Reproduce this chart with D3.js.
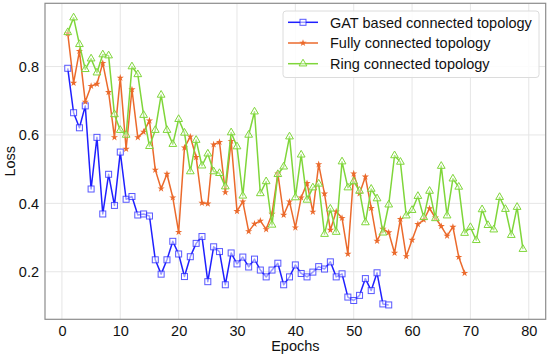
<!DOCTYPE html>
<html>
<head>
<meta charset="utf-8">
<script src="https://cdn.jsdelivr.net/npm/d3@7"></script>
<style>
  body { margin: 0; background: #fff; }
  svg { font-family: "Liberation Sans", Arial, sans-serif; }
</style>
</head>
<body>
<div id="chart"></div>
<script>
const gatLoss = [0.795, 0.665, 0.621, 0.685, 0.442, 0.593, 0.369, 0.485, 0.394, 0.550,
    0.412, 0.420, 0.366, 0.369, 0.363, 0.235, 0.193, 0.235, 0.289, 0.252,
    0.186, 0.244, 0.283, 0.303, 0.171, 0.273, 0.259, 0.162, 0.255, 0.223,
    0.243, 0.214, 0.237, 0.205, 0.185, 0.205, 0.225, 0.162, 0.185, 0.220,
    0.195, 0.185, 0.199, 0.215, 0.208, 0.229, 0.185, 0.194, 0.126, 0.116,
    0.131, 0.180, 0.145, 0.197, 0.106, 0.103];

const fullyLoss = [0.897, 0.752, 0.845, 0.697, 0.743, 0.749, 0.810, 0.725, 0.593, 0.767,
    0.559, 0.733, 0.593, 0.609, 0.642, 0.498, 0.443, 0.486, 0.417, 0.316,
    0.563, 0.595, 0.535, 0.401, 0.399, 0.572, 0.579, 0.432, 0.582, 0.377,
    0.405, 0.318, 0.340, 0.349, 0.324, 0.369, 0.487, 0.366, 0.405, 0.329,
    0.417, 0.459, 0.375, 0.514, 0.428, 0.322, 0.376, 0.357, 0.252, 0.487,
    0.429, 0.478, 0.386, 0.290, 0.325, 0.315, 0.255, 0.354, 0.245, 0.293,
    0.339, 0.352, 0.385, 0.358, 0.333, 0.305, 0.331, 0.243, 0.196];

const ringLoss = [0.900, 0.943, 0.865, 0.792, 0.823, 0.782, 0.835, 0.832, 0.660, 0.614,
    0.600, 0.800, 0.777, 0.658, 0.567, 0.614, 0.717, 0.614, 0.573, 0.646,
    0.606, 0.493, 0.585, 0.510, 0.545, 0.493, 0.488, 0.449, 0.607, 0.566,
    0.422, 0.600, 0.668, 0.429, 0.464, 0.337, 0.485, 0.507, 0.595, 0.417,
    0.542, 0.410, 0.446, 0.457, 0.310, 0.384, 0.316, 0.522, 0.446, 0.464,
    0.436, 0.344, 0.442, 0.414, 0.314, 0.396, 0.540, 0.521, 0.364, 0.380,
    0.421, 0.359, 0.436, 0.356, 0.509, 0.364, 0.472, 0.448, 0.313, 0.330,
    0.292, 0.382, 0.336, 0.323, 0.418, 0.383, 0.307, 0.389, 0.266];

const seriesNames = ["GAT based connected topology", "Fully connected topology", "Ring connected topology"];
const xTicks = [0, 10, 20, 30, 40, 50, 60, 70, 80];
const yTicks = [0.2, 0.4, 0.6, 0.8];

const width = 550;
const height = 359;
const margin = { top: 3.3, right: 4.3, bottom: 39.7, left: 45 };
const fontSize = "14.5px";

const series = [
    { name: seriesNames[0], values: gatLoss, color: "#1f1fff", marker: "square" },
    { name: seriesNames[1], values: fullyLoss, color: "#eb6a2c", marker: "star" },
    { name: seriesNames[2], values: ringLoss, color: "#7fd63a", marker: "triangle" }
];

const svg = d3.select("#chart")
    .append("svg")
    .attr("width", width)
    .attr("height", height);

// matplotlib style 5% padding
const maxEpoch = d3.max(series, s => s.values.length);
const xPad = (maxEpoch - 1) * 0.05;
const allVals = series.flatMap(s => s.values);
const yMin = d3.min(allVals), yMax = d3.max(allVals);
const yPad = (yMax - yMin) * 0.05;

const x = d3.scaleLinear()
    .domain([1 - xPad, maxEpoch + xPad])
    .range([margin.left, width - margin.right]);

const y = d3.scaleLinear()
    .domain([yMin - yPad, yMax + yPad])
    .range([height - margin.bottom, margin.top]);

// grid
svg.append("g")
    .selectAll("line")
    .data(xTicks)
    .enter()
    .append("line")
    .attr("x1", d => x(d)).attr("x2", d => x(d))
    .attr("y1", margin.top).attr("y2", height - margin.bottom)
    .attr("stroke", "#e6e6e6")
    .attr("stroke-width", 1);

svg.append("g")
    .selectAll("line")
    .data(yTicks)
    .enter()
    .append("line")
    .attr("x1", margin.left).attr("x2", width - margin.right)
    .attr("y1", d => y(d)).attr("y2", d => y(d))
    .attr("stroke", "#e6e6e6")
    .attr("stroke-width", 1);

// axes
const xAxis = svg.append("g")
    .attr("transform", `translate(0,${height - margin.bottom})`)
    .call(d3.axisBottom(x).tickValues(xTicks).tickSize(0).tickPadding(6).tickFormat(d3.format("d")));

const yAxis = svg.append("g")
    .attr("transform", `translate(${margin.left},0)`)
    .call(d3.axisLeft(y).tickValues(yTicks).tickSize(0).tickPadding(6).tickFormat(d3.format(".1f")));

[xAxis, yAxis].forEach(a => {
    a.select(".domain").remove();
    a.selectAll("text")
        .style("font-family", "'Liberation Sans', Arial, sans-serif")
        .style("font-size", fontSize)
        .attr("fill", "#111");
});

// frame
svg.append("rect")
    .attr("x", margin.left)
    .attr("y", margin.top)
    .attr("width", width - margin.left - margin.right)
    .attr("height", height - margin.top - margin.bottom)
    .attr("fill", "none")
    .attr("stroke", "#8c8c8c")
    .attr("stroke-width", 1.2);

svg.append("text")
    .attr("x", (margin.left + width - margin.right) / 2)
    .attr("y", 351)
    .attr("text-anchor", "middle")
    .style("font-size", fontSize)
    .attr("fill", "#111")
    .text("Epochs");

svg.append("text")
    .attr("transform", `translate(15,${(margin.top + height - margin.bottom) / 2}) rotate(-90)`)
    .attr("text-anchor", "middle")
    .style("font-size", fontSize)
    .attr("fill", "#111")
    .text("Loss");

const line = d3.line()
    .x((d, i) => x(i + 1))
    .y(d => y(d));

function drawMarker(g, type, color) {
    if (type === "square") {
        g.append("rect")
            .attr("x", -3).attr("y", -3)
            .attr("width", 6).attr("height", 6)
            .attr("fill", "rgba(255,255,255,0.55)")
            .attr("stroke", color)
            .attr("stroke-opacity", 0.75)
            .attr("stroke-width", 1);
    } else if (type === "star") {
        g.append("path")
            .attr("d", d3.symbol(d3.symbolStar, 16)())
            .attr("fill", color);
    } else {
        g.append("path")
            .attr("d", d3.symbol(d3.symbolTriangle, 26)())
            .attr("fill", "rgba(255,255,255,0.4)")
            .attr("stroke", color)
            .attr("stroke-width", 1);
    }
}

series.forEach(s => {
    svg.append("path")
        .datum(s.values)
        .attr("fill", "none")
        .attr("stroke", s.color)
        .attr("stroke-width", 1.5)
        .attr("stroke-linejoin", "round")
        .attr("d", line);

    svg.append("g")
        .selectAll("g")
        .data(s.values)
        .enter()
        .append("g")
        .attr("transform", (d, i) => `translate(${x(i + 1)},${y(d)})`)
        .each(function () { drawMarker(d3.select(this), s.marker, s.color); });
});

// legend
const legend = svg.append("g").attr("transform", "translate(283,11)");
legend.append("rect")
    .attr("width", 256)
    .attr("height", 66.5)
    .attr("rx", 3)
    .attr("fill", "rgba(255,255,255,0.85)")
    .attr("stroke", "#dcdcdc")
    .attr("stroke-width", 1);

series.forEach((s, i) => {
    const row = legend.append("g").attr("transform", `translate(0,${11.3 + i * 20.7})`);
    row.append("line")
        .attr("x1", 5).attr("x2", 35)
        .attr("stroke", s.color)
        .attr("stroke-width", 1.5);
    const m = row.append("g").attr("transform", "translate(20,0)");
    drawMarker(m, s.marker, s.color);
    row.append("text")
        .attr("x", 47)
        .attr("y", 5.3)
        .style("font-size", fontSize)
        .attr("fill", "#111")
        .text(s.name);
});
</script>
</body>
</html>
